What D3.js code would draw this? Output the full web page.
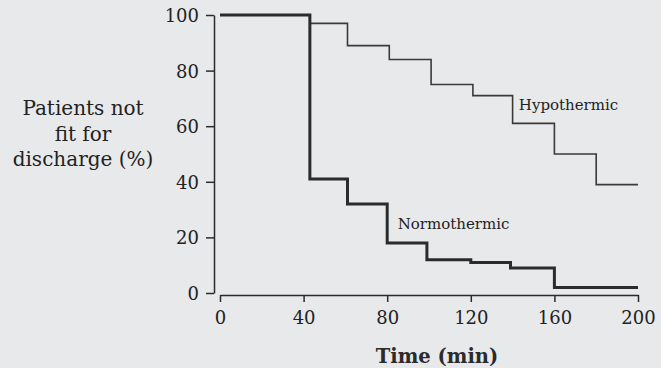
<!DOCTYPE html>
<html>
<head>
<meta charset="utf-8">
<script src="https://cdn.jsdelivr.net/npm/d3@7"></script>
<style>
  body { margin: 0; background: #e8e9eb; }
  svg { display: block; }
  .axis text { font-family: 'DejaVu Serif', serif; font-size: 18px; fill: #222; }
  .axis path, .axis line { stroke: #2b2b2b; stroke-width: 1.5px; }
</style>
</head>
<body>
<div id="chart"></div>
<script>
// step times (min) and % patients not fit for discharge
const hypoTimes = [0, 43, 61, 81, 101, 121, 140, 160, 180, 200];
const hypoValues = [100, 97, 89, 84, 75, 71, 61, 50, 39, 39];
const normoTimes = [0, 43, 61, 80, 99, 120, 139, 160, 200];
const normoValues = [100, 41, 32, 18, 12, 11, 9, 2, 2];
const xTicks = [0, 40, 80, 120, 160, 200];
const yTicks = [0, 20, 40, 60, 80, 100];
const yLabelLines = ['Patients not', 'fit for', 'discharge (%)'];

const width = 661, height = 368;

const svg = d3.select('#chart').append('svg')
  .attr('width', width)
  .attr('height', height);

svg.append('rect')
  .attr('width', width).attr('height', height)
  .attr('fill', '#e8e9eb');

const x = d3.scaleLinear().domain([0, 200]).range([220, 638]);
const y = d3.scaleLinear().domain([0, 100]).range([293, 15]);

/* ---------- axes ---------- */
svg.append('g')
  .attr('class', 'axis')
  .attr('transform', 'translate(214,0)')
  .call(d3.axisLeft(y).tickValues(yTicks).tickSize(8).tickSizeOuter(0).tickPadding(7))
  .selectAll('text').attr('dy', '0.36em');

svg.append('g')
  .attr('class', 'axis')
  .attr('transform', 'translate(0,295)')
  .call(d3.axisBottom(x).tickValues(xTicks).tickSize(7).tickSizeOuter(0).tickPadding(9));

/* ---------- lines ---------- */
const line = d3.line()
  .x(d => x(d[0]))
  .y(d => y(d[1]))
  .curve(d3.curveStepAfter);

const hypo = hypoTimes.map((t, i) => [t, hypoValues[i]]);
const normo = normoTimes.map((t, i) => [t, normoValues[i]]);

svg.append('path')
  .datum(hypo)
  .attr('d', line)
  .attr('fill', 'none')
  .attr('stroke', '#3a3a3a')
  .attr('stroke-width', 1.6);

svg.append('path')
  .datum(normo)
  .attr('d', line)
  .attr('fill', 'none')
  .attr('stroke', '#2b2b2b')
  .attr('stroke-width', 3);

/* ---------- labels ---------- */
svg.append('text')
  .attr('x', x(143))
  .attr('y', y(66))
  .attr('font-family', 'DejaVu Serif, serif')
  .attr('font-size', 15)
  .attr('fill', '#222')
  .text('Hypothermic');

svg.append('text')
  .attr('x', x(85))
  .attr('y', y(23))
  .attr('font-family', 'DejaVu Serif, serif')
  .attr('font-size', 15)
  .attr('fill', '#222')
  .text('Normothermic');

svg.append('text')
  .attr('x', 437)
  .attr('y', 363)
  .attr('text-anchor', 'middle')
  .attr('font-family', 'DejaVu Serif, serif')
  .attr('font-size', 19.5)
  .attr('font-weight', 'bold')
  .attr('fill', '#2b2b2b')
  .text('Time (min)');

svg.append('g')
  .selectAll('text')
  .data(yLabelLines)
  .join('text')
  .attr('x', 83)
  .attr('y', (d, i) => 115 + i * 25.5)
  .attr('text-anchor', 'middle')
  .attr('font-family', 'DejaVu Serif, serif')
  .attr('font-size', 20)
  .attr('fill', '#222')
  .text(d => d);
</script>
</body>
</html>
